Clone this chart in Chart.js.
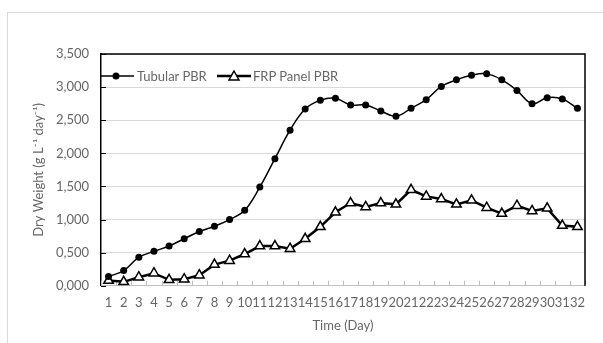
<!DOCTYPE html>
<html>
<head>
<meta charset="utf-8">
<script src="https://cdn.jsdelivr.net/npm/chart.js@4.4.1/dist/chart.umd.min.js"></script>
<style>
  body { margin: 0; background: #fff; }
  #wrap { position: relative; width: 603px; height: 343px; overflow: hidden; }
  #frame { position: absolute; left: 7px; top: 12px; width: 640px; height: 380px; border: 1px solid #d9d9d9; }
  #chart { position: absolute; left: 0; top: 0; }
  .leg { position: absolute; top: 69px; font: 13px Lato, sans-serif; color: #666; line-height: 14px; white-space: nowrap; }
  .leg svg { position: absolute; top: 1px; }
</style>
</head>
<body>
<div id="wrap">
  <div id="frame"></div>
  <canvas id="chart" width="603" height="343"></canvas>
  <div class="leg" style="left:100px">
    <svg width="34" height="12" style="left:0"><line x1="0" y1="6" x2="34" y2="6" stroke="#000" stroke-width="1.5"/><circle cx="16" cy="6" r="3.5" fill="#000"/></svg>
    <span style="position:absolute;left:37px">Tubular PBR</span>
  </div>
  <div class="leg" style="left:217px">
    <svg width="34" height="12" style="left:0"><line x1="0" y1="6" x2="34" y2="6" stroke="#000" stroke-width="2.5"/><polygon points="17,1 22,10 12,10" fill="#fff" stroke="#000" stroke-width="1.5"/></svg>
    <span style="position:absolute;left:36px">FRP Panel PBR</span>
  </div>
</div>
<script>
// data
const days = [];
for (let d = 1; d <= 32; d++) days.push(String(d));

const tubular = [0.14, 0.23, 0.43, 0.52, 0.60, 0.71, 0.82, 0.90, 1.00, 1.14,
  1.49, 1.92, 2.35, 2.67, 2.80, 2.83, 2.73, 2.73, 2.64, 2.56,
  2.68, 2.81, 3.01, 3.11, 3.18, 3.20, 3.11, 2.95, 2.75, 2.84,
  2.82, 2.68];

const frpPanel = [0.08, 0.06, 0.13, 0.19, 0.09, 0.10, 0.16, 0.32, 0.38, 0.48,
  0.60, 0.60, 0.56, 0.71, 0.89, 1.11, 1.25, 1.19, 1.25, 1.23,
  1.45, 1.35, 1.31, 1.23, 1.29, 1.18, 1.09, 1.21, 1.13, 1.17,
  0.91, 0.89];

const yTicks = [0, 0.5, 1, 1.5, 2, 2.5, 3, 3.5];

const textGrey = '#666';

// box round the plot and the small inner ticks
const plotBox = {
  id: 'plotBox',
  beforeDatasetsDraw(chart) {
    const { ctx, chartArea: a, scales: { x, y } } = chart;
    ctx.save();
    ctx.lineWidth = 1;
    ctx.strokeStyle = '#bfbfbf';
    for (let i = 0; i <= days.length; i++) {
      const px = Math.round(x.getPixelForValue(i - 0.5)) + 0.5;
      ctx.beginPath();
      ctx.moveTo(px, a.bottom);
      ctx.lineTo(px, a.bottom - 5);
      ctx.stroke();
    }
    ctx.strokeStyle = '#000';
    yTicks.forEach(v => {
      const py = Math.round(y.getPixelForValue(v)) + 0.5;
      ctx.beginPath();
      ctx.moveTo(a.left, py);
      ctx.lineTo(a.left + 5, py);
      ctx.stroke();
    });
    ctx.lineWidth = 1.5;
    ctx.beginPath();
    ctx.moveTo(a.left, a.top);
    ctx.lineTo(a.right, a.top);
    ctx.lineTo(a.right, a.bottom);
    ctx.stroke();
    ctx.restore();
  }
};

new Chart(document.getElementById('chart'), {
  type: 'line',
  data: {
    labels: days,
    datasets: [{
      label: 'Tubular PBR',
      data: tubular,
      borderColor: '#000',
      borderWidth: 1.5,
      tension: 0.4,
      pointStyle: 'circle',
      pointRadius: 3.5,
      pointBackgroundColor: '#000',
      pointBorderColor: '#000',
      pointBorderWidth: 0
    }, {
      label: 'FRP Panel PBR',
      data: frpPanel,
      borderColor: '#000',
      borderWidth: 2.5,
      tension: 0,
      pointStyle: 'triangle',
      pointRadius: 5.5,
      pointBackgroundColor: '#fff',
      pointBorderColor: '#000',
      pointBorderWidth: 1.5
    }]
  },
  options: {
    responsive: false,
    animation: false,
    layout: { padding: { left: 31, right: 18, top: 54, bottom: 9 } },
    plugins: {
      legend: { display: false },
      tooltip: { enabled: false }
    },
    scales: {
      x: {
        offset: true,
        grid: { display: false, drawTicks: false },
        border: { color: '#bfbfbf', width: 1 },
        ticks: {
          autoSkip: false, maxRotation: 0, minRotation: 0, padding: 9.5,
          color: textGrey, font: { family: 'Lato', size: 13 }
        },
        title: {
          display: true, text: 'Time (Day)', color: textGrey,
          font: { family: 'Lato', size: 13 }, padding: { top: -2, bottom: 0 }
        }
      },
      y: {
        min: 0,
        max: 3.5,
        afterBuildTicks(scale) { scale.ticks = yTicks.map(v => ({ value: v })); },
        afterFit(scale) { scale.width = 70; },
        grid: { color: '#d9d9d9', drawTicks: false },
        border: { color: '#000', width: 1.5 },
        ticks: {
          padding: 12, color: textGrey, font: { family: 'Lato', size: 13 },
          callback: v => v.toFixed(3).replace('.', ',')
        },
        title: {
          display: true, text: 'Dry Weight (g L\u207B\u00B9 day\u207B\u00B9)', color: textGrey,
          font: { family: 'Lato', size: 13 }, padding: { top: 0, bottom: 6 }
        }
      }
    }
  },
  plugins: [plotBox]
});
</script>
</body>
</html>
